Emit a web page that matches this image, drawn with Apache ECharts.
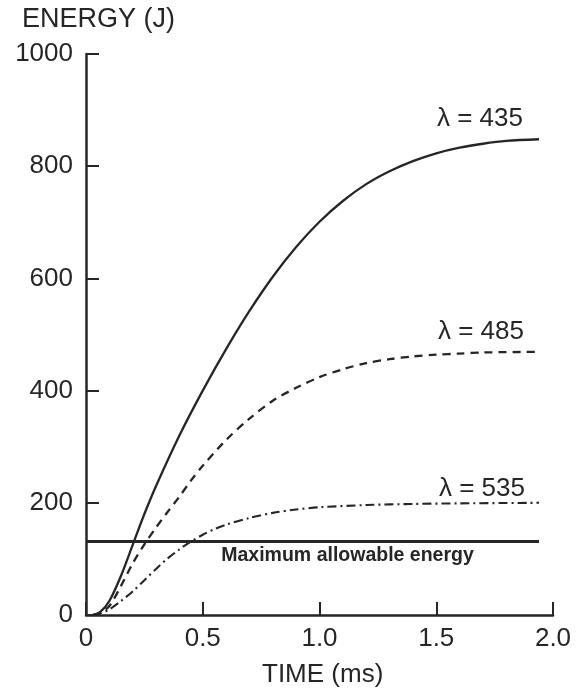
<!DOCTYPE html>
<html>
<head>
<meta charset="utf-8">
<script src="https://cdn.jsdelivr.net/npm/echarts@6/dist/echarts.min.js"></script>
<style>
  html, body { margin: 0; padding: 0; background: #ffffff; }
  #chart { width: 579px; height: 689px; }
</style>
</head>
<body>
<div id="chart"></div>
<script>
// Energy delivered vs. time for three wavelengths
const xTicks = [0, 0.5, 1.0, 1.5, 2.0];
const yTicks = [0, 200, 400, 600, 800, 1000];

const lambda435 = [
  [0.03, 0], [0.06, 5], [0.1, 25], [0.15, 70], [0.2, 125], [0.25, 180], [0.3, 230],
  [0.4, 320], [0.5, 400], [0.6, 474], [0.7, 542], [0.8, 603], [0.9, 656],
  [1.0, 701], [1.1, 738], [1.2, 768], [1.3, 791], [1.4, 809], [1.5, 823],
  [1.6, 833], [1.7, 840], [1.8, 845], [1.94, 848]
];
const lambda485 = [
  [0.03, 0], [0.06, 3], [0.1, 16], [0.15, 52], [0.2, 92], [0.25, 126], [0.3, 156],
  [0.35, 184], [0.4, 211], [0.45, 240], [0.5, 266], [0.6, 312], [0.7, 350],
  [0.8, 382], [0.9, 405], [1.0, 424], [1.1, 438], [1.2, 449], [1.3, 456],
  [1.4, 461], [1.5, 464], [1.6, 466], [1.7, 468], [1.94, 469]
];
const lambda535 = [
  [0.03, 0], [0.06, 3], [0.1, 10], [0.15, 25], [0.2, 42], [0.25, 62], [0.3, 82],
  [0.35, 101], [0.4, 117], [0.45, 131], [0.5, 143], [0.55, 153], [0.6, 161],
  [0.7, 173], [0.8, 182], [0.9, 188], [1.0, 192], [1.2, 196], [1.4, 198],
  [1.6, 199], [1.94, 200]
];
const maxAllowable = [[0, 131], [1.94, 131]];

const curveLabels = ['λ = 435', 'λ = 485', 'λ = 535'];
const limitLabel = 'Maximum allowable energy';
const limitLabelAt = 1.12;

const ink = '#262626';
const textFont = 'Liberation Sans';

function endLabel(data, text, offset) {
  const last = data[data.length - 1];
  return {
    silent: true,
    symbol: 'circle',
    symbolSize: 0,
    data: [{
      coord: last,
      label: {
        show: true,
        formatter: text,
        offset: offset,
        color: ink,
        fontFamily: textFont,
        fontSize: 26,
        align: 'center',
        verticalAlign: 'middle'
      }
    }]
  };
}

const chart = echarts.init(document.getElementById('chart'), null, { renderer: 'canvas' });
chart.setOption({
  backgroundColor: '#ffffff',
  animation: false,
  grid: { left: 86, right: 26, top: 54, bottom: 74 },
  xAxis: {
    type: 'value',
    min: xTicks[0],
    max: xTicks[xTicks.length - 1],
    interval: 0.5,
    axisLine: { show: true, onZero: false, lineStyle: { color: ink, width: 2.5 } },
    axisTick: { show: true, inside: true, length: 13, lineStyle: { color: ink, width: 2 } },
    splitLine: { show: false },
    axisLabel: {
      margin: 11,
      color: ink,
      fontFamily: textFont,
      fontSize: 26,
      formatter: v => (v === 0 ? '0' : v.toFixed(1))
    }
  },
  yAxis: {
    type: 'value',
    min: yTicks[0],
    max: yTicks[yTicks.length - 1],
    interval: 200,
    axisLine: { show: true, lineStyle: { color: ink, width: 2.5 } },
    axisTick: { show: true, inside: true, length: 13, lineStyle: { color: ink, width: 2 } },
    splitLine: { show: false },
    axisLabel: {
      margin: 13,
      color: ink,
      fontFamily: textFont,
      fontSize: 26,
      formatter: v => String(v)
    }
  },
  graphic: [
    {
      type: 'text', left: 22, top: 6,
      style: { text: 'ENERGY (J)', fill: ink, font: '27px "Liberation Sans"' }
    },
    {
      type: 'text', left: 262, top: 662,
      style: { text: 'TIME (ms)', fill: ink, font: '26px "Liberation Sans"' }
    }
  ],
  series: [
    {
      type: 'line', data: lambda435, showSymbol: false, smooth: 0.3,
      lineStyle: { color: ink, width: 2.3, type: 'solid' },
      markPoint: endLabel(lambda435, curveLabels[0], [-59, -20])
    },
    {
      type: 'line', data: lambda485, showSymbol: false, smooth: 0.3,
      lineStyle: { color: ink, width: 2.3, type: [8, 6] },
      markPoint: endLabel(lambda485, curveLabels[1], [-58, -20])
    },
    {
      type: 'line', data: lambda535, showSymbol: false, smooth: 0.3,
      lineStyle: { color: ink, width: 2.1, type: [9, 4, 2, 4] },
      markPoint: endLabel(lambda535, curveLabels[2], [-57, -14])
    },
    {
      type: 'line', data: maxAllowable, showSymbol: false,
      lineStyle: { color: ink, width: 3 },
      markPoint: {
        silent: true,
        symbolSize: 0,
        data: [{
          coord: [limitLabelAt, maxAllowable[0][1]],
          label: {
            show: true,
            formatter: limitLabel,
            offset: [0, 14],
            color: ink,
            fontFamily: textFont,
            fontWeight: 'bold',
            fontSize: 19.5,
            align: 'center',
            verticalAlign: 'middle'
          }
        }]
      }
    }
  ]
});
</script>
</body>
</html>
